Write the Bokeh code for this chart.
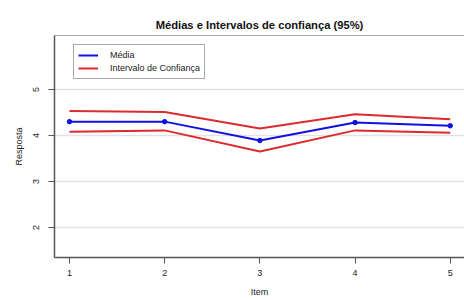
from bokeh.plotting import figure
from bokeh.models import Range1d, Span, Legend, LegendItem, FixedTicker
from bokeh.embed import file_html
from bokeh.resources import INLINE

items = [1, 2, 3, 4, 5]
media = [4.30, 4.30, 3.89, 4.28, 4.21]
ic_sup = [4.53, 4.51, 4.15, 4.46, 4.35]
ic_inf = [4.08, 4.11, 3.65, 4.11, 4.06]
y_ticks = [2, 3, 4, 5]

FONT = "Liberation Sans"
BLUE = "#1010e0"
RED = "#dc2a2e"
AXC = "#555555"

p = figure(width=464, height=300, output_backend="svg", toolbar_location=None,
           x_range=Range1d(0.8425, 5.15), y_range=Range1d(1.35, 6.17),
           min_border_left=54, min_border_right=0, min_border_top=35, min_border_bottom=43)

p.title.text = "Médias e Intervalos de confiança (95%)"
p.title.text_font = FONT
p.title.text_font_size = "11.2px"
p.title.text_font_style = "bold"
p.title.align = "center"
p.title.text_color = "#111111"
p.title.standoff = 10

p.outline_line_color = None
p.background_fill_color = "white"
p.border_fill_color = "white"

p.xgrid.visible = False
p.ygrid.grid_line_color = "#e2e2e2"
p.ygrid.grid_line_width = 1.5

top = Span(location=6.17, dimension="width", line_color=AXC, line_width=1.2)
p.add_layout(top)

r_sup = p.line(items, ic_sup, line_color=RED, line_width=2)
p.line(items, ic_inf, line_color=RED, line_width=2)
r_med = p.line(items, media, line_color=BLUE, line_width=2)
p.scatter(items, media, size=4.5, color=BLUE)

for ax in (p.xaxis[0], p.yaxis[0]):
    ax.axis_line_color = AXC
    ax.axis_line_width = 1.5
    ax.major_tick_line_color = AXC
    ax.major_tick_line_width = 1
    ax.major_tick_out = 6
    ax.major_tick_in = 0
    ax.minor_tick_line_color = None
    ax.major_label_text_font = FONT
    ax.major_label_text_font_size = "9px"
    ax.major_label_text_color = "#222222"
    ax.axis_label_text_font = FONT
    ax.axis_label_text_font_size = "9px"
    ax.axis_label_text_font_style = "normal"
    ax.axis_label_text_color = "#222222"

p.xaxis.ticker = FixedTicker(ticks=items)
p.yaxis.ticker = FixedTicker(ticks=y_ticks)
p.xaxis.axis_label = "Item"
p.yaxis.axis_label = "Resposta"
p.yaxis.major_label_orientation = "vertical"
p.xaxis.major_label_standoff = 6
p.yaxis.major_label_standoff = 9
p.xaxis.axis_label_standoff = 8
p.yaxis.axis_label_standoff = 7

legend = Legend(items=[LegendItem(label="Média", renderers=[r_med]),
                       LegendItem(label="Intervalo de Confiança", renderers=[r_sup])],
                location=(19, 178))
legend.label_text_font = FONT
legend.label_text_font_size = "9px"
legend.label_text_color = "#222222"
legend.label_height = 12
legend.label_standoff = 12
legend.glyph_width = 20
legend.glyph_height = 12
legend.spacing = 1
legend.padding = 4
legend.margin = 0
legend.border_line_color = "#555555"
legend.border_line_width = 1
legend.background_fill_alpha = 1
legend.label_text_line_height = 1.0
p.add_layout(legend)

open("out.html", "w").write(file_html(p, INLINE))
